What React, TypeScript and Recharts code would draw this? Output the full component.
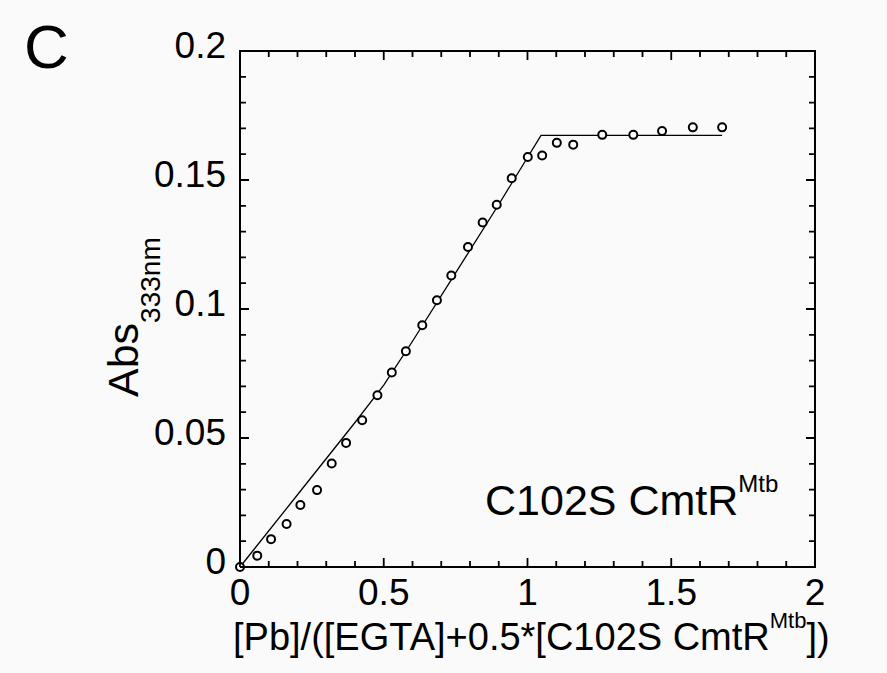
import React from 'react';
import { ComposedChart, Scatter, Line, XAxis, YAxis } from 'recharts';

// titration: [Pb]/([EGTA]+0.5*[C102S CmtR]) vs A333
const ratio = [
  0, 0.06, 0.108, 0.162, 0.21, 0.268, 0.319, 0.369, 0.425, 0.478, 0.528,
  0.577, 0.634, 0.685, 0.735, 0.793, 0.844, 0.893, 0.945, 1.001, 1.051,
  1.102, 1.159, 1.26, 1.368, 1.468, 1.575, 1.677,
];
const absorbance = [
  0, 0.0044, 0.0108, 0.0167, 0.024, 0.0298, 0.0401, 0.0481, 0.0569, 0.0666,
  0.0754, 0.0836, 0.0937, 0.1034, 0.113, 0.124, 0.1335, 0.1404, 0.1507,
  0.1589, 0.1595, 0.1644, 0.1637, 0.1675, 0.1675, 0.169, 0.1704, 0.1704,
];

// fitted curve
const fitX = [0, 0.2, 0.4, 0.5, 0.6, 0.75, 0.9, 1.047, 1.677];
const fitY = [0, 0.028, 0.056, 0.0705, 0.0875, 0.114, 0.1405, 0.1673, 0.1673];

const xTicks = [
  0, 0.1, 0.2, 0.3, 0.4, 0.5, 0.6, 0.7, 0.8, 0.9, 1, 1.1, 1.2, 1.3, 1.4, 1.5,
  1.6, 1.7, 1.8, 1.9, 2,
];
const xMajor = [0, 0.5, 1, 1.5, 2];
const yTicks = [
  0, 0.01, 0.02, 0.03, 0.04, 0.05, 0.06, 0.07, 0.08, 0.09, 0.1, 0.11, 0.12,
  0.13, 0.14, 0.15, 0.16, 0.17, 0.18, 0.19, 0.2,
];
const yMajor = [0, 0.05, 0.1, 0.15, 0.2];

const points = ratio.map((x, i) => ({ x, y: absorbance[i] }));
const fit = fitX.map((x, i) => ({ x, y: fitY[i] }));

const FONT = '"Liberation Sans", Arial, sans-serif';
const isMajor = (v: number, list: number[]) =>
  list.some((m) => Math.abs(m - v) < 1e-6);

// plot frame in page px
const LEFT = 240;
const RIGHT = 815;
const TOP = 51;
const BOTTOM = 567;

const renderBottomTick = (props: any) => {
  const { x, payload, index } = props;
  const major = isMajor(payload.value, xMajor);
  const len = major ? 9 : 6;
  return (
    <g key={`bt-${index}`}>
      <path d={`M${x},${BOTTOM}V${BOTTOM - len}M${x},${TOP}V${TOP + len}`} stroke="#000" strokeWidth={1.8} fill="none" />
      {major && (
        <text x={x} y={BOTTOM + 38} textAnchor="middle" fontFamily={FONT} fontSize={37} fill="#000">
          {String(payload.value)}
        </text>
      )}
    </g>
  );
};

const renderLeftTick = (props: any) => {
  const { y, payload, index } = props;
  const major = isMajor(payload.value, yMajor);
  const len = major ? 9 : 6;
  return (
    <g key={`lt-${index}`}>
      <path d={`M${LEFT},${y}H${LEFT + len}M${RIGHT},${y}H${RIGHT - len}`} stroke="#000" strokeWidth={1.8} fill="none" />
      {major && (
        <text x={LEFT - 14} y={y + 7} textAnchor="end" fontFamily={FONT} fontSize={37} fill="#000">
          {String(payload.value)}
        </text>
      )}
    </g>
  );
};

const Dot = (props: any) => (
  <circle cx={props.cx} cy={props.cy} r={4} fill="#fff" stroke="#000" strokeWidth={2} />
);

const Texts = () => (
  <g fontFamily={FONT} fill="#000">
    <rect x={LEFT} y={TOP} width={RIGHT - LEFT} height={BOTTOM - TOP} fill="none" stroke="#000" strokeWidth={2} />
    <text x={24} y={68} fontSize={62}>C</text>
    <text x={138} y={397} fontSize={43} transform="rotate(-90 138 397)">
      Abs
      <tspan fontSize={28} dy={22}>333nm</tspan>
    </text>
    <text x={485} y={515} fontSize={43}>
      C102S CmtR
      <tspan fontSize={24} dy={-23}>Mtb</tspan>
    </text>
    <text x={233} y={650} fontSize={38}>
      [Pb]/([EGTA]+0.5*[C102S CmtR
      <tspan fontSize={22} dy={-22}>Mtb</tspan>
      <tspan dy={22}>])</tspan>
    </text>
  </g>
);

export default function App() {
  return (
    <div style={{ position: 'absolute', left: 0, top: 0, background: '#fafafa' }}>
      <ComposedChart
        width={887}
        height={673}
        margin={{ top: TOP, right: 887 - RIGHT, bottom: 0, left: 0 }}
      >
        <XAxis
          dataKey="x"
          type="number"
          domain={[0, 2]}
          ticks={xTicks}
          interval={0}
          height={673 - BOTTOM}
          tickSize={0}
          tickMargin={0}
          tickLine={false}
          axisLine={false}
          tick={renderBottomTick}
        />
        <YAxis
          dataKey="y"
          type="number"
          domain={[0, 0.2]}
          ticks={yTicks}
          interval={0}
          width={LEFT}
          tickSize={0}
          tickMargin={0}
          tickLine={false}
          axisLine={false}
          tick={renderLeftTick}
        />
        <Line
          data={fit}
          dataKey="y"
          type="linear"
          stroke="#000"
          strokeWidth={1.3}
          dot={false}
          activeDot={false}
          isAnimationActive={false}
        />
        <Scatter data={points} dataKey="y" shape={<Dot />} isAnimationActive={false} />
        <Texts />
      </ComposedChart>
    </div>
  );
}
